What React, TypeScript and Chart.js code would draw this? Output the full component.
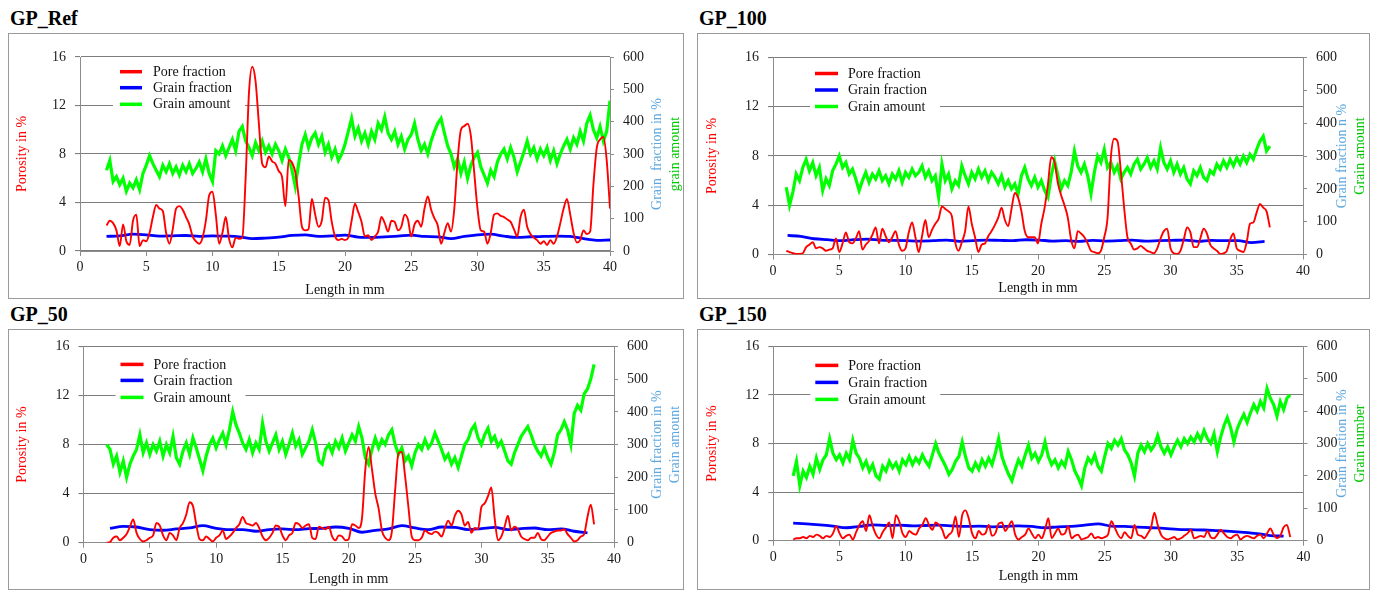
import React, { useEffect, useRef } from 'react';
import { Chart, registerables } from 'chart.js';

Chart.register(...registerables);

const SERIF = "'Liberation Serif', 'Times New Roman', serif";

// ---------------- DATA ----------------
const seriesLabels = ['Pore fraction', 'Grain fraction', 'Grain amount'];
const xTicks = [0, 5, 10, 15, 20, 25, 30, 35, 40];
const leftTicks = [0, 4, 8, 12, 16];
const rightTicks = [0, 100, 200, 300, 400, 500, 600];

// GP_Ref  (pore / amount sampled every 0.25 mm from 2.0 mm)
const refStart = 2.0;
const refStep = 0.25;
const refPore = [
  2.1, 2.5, 2.3, 1.7, 0.4, 2.2, 0.8, 0.5,
  2.5, 3.0, 0.4, 0.9, 0.8, 1.5, 2.8, 3.8,
  3.5, 3.3, 1.5, 0.6, 1.8, 3.5, 3.7, 3.4,
  2.8, 2.2, 1.2, 0.8, 0.6, 1.1, 2.5, 4.6,
  4.9, 3.0, 0.6, 1.5, 2.8, 1.0, 0.3, 1.1,
  1.0, 1.1, 6.0, 13.0, 15.2, 14.0, 10.5, 7.2,
  6.9, 7.8, 7.4, 7.2, 6.6, 6.1, 3.7, 7.5,
  7.3, 6.5, 4.5, 2.0, 1.7, 1.8, 4.3, 3.0,
  2.0, 2.5, 4.4, 4.2, 2.4, 1.2, 0.9, 1.0,
  0.9, 1.1, 2.5, 3.9, 3.2, 2.4, 1.2, 1.3,
  0.9, 1.2, 1.6, 2.8, 2.3, 1.6, 2.5, 2.4,
  1.7, 2.0, 3.0, 2.6, 1.2, 2.2, 2.5, 2.0,
  3.5, 4.5, 3.4, 2.7, 2.1, 0.6, 1.5, 2.3,
  1.6, 3.5, 7.5, 10.0, 10.3, 10.5, 9.5, 6.5,
  3.5, 1.7, 1.6, 0.6, 1.5, 3.0, 3.1, 2.9,
  2.8, 2.6, 2.4, 1.8, 1.2, 2.8, 3.4, 2.0,
  1.4, 1.1, 0.9, 0.6, 0.8, 0.5, 0.9, 0.6,
  1.2, 2.3, 3.5, 4.3, 3.0, 1.5, 0.7, 0.9,
  1.7, 1.4, 1.6, 5.5, 8.5, 9.2, 9.4, 7.5,
  3.5,
];
const refAmount = [
  250, 280, 215, 230, 205, 225, 185, 210,
  195, 220, 190, 240, 265, 295, 270, 250,
  230, 265, 245, 270, 240, 260, 235, 265,
  245, 270, 240, 255, 275, 245, 285, 240,
  215, 310, 300, 325, 295, 320, 345, 310,
  370, 385, 340, 320, 295, 335, 310, 340,
  305, 325, 300, 330, 310, 280, 315, 290,
  250, 200, 270, 330, 360, 320, 350, 365,
  330, 355, 305, 330, 290, 315, 280, 300,
  330, 370, 410, 355, 380, 340, 365, 330,
  370, 345, 395, 375, 415, 365, 345, 370,
  330, 355, 315, 345, 360, 395, 345, 310,
  330, 300, 340, 370, 395, 410, 365, 325,
  300, 260, 285, 240, 275, 225, 265, 290,
  305, 260, 235, 210, 250, 230, 275, 300,
  315, 285, 320, 290, 245, 275, 305, 340,
  300, 320, 285, 315, 295, 320, 280, 310,
  270, 300, 325, 345, 315, 350, 330, 370,
  340, 395, 420, 375, 350, 385, 340, 370,
  465,
];
const refFracStart = 2;
const refFracStep = 1;
const refFraction = [
  45, 47, 52, 50, 46, 47, 48, 45, 47, 46, 44, 38, 40, 43, 48, 50, 45, 47, 49, 43,
  42, 44, 46, 49, 45, 44, 38, 45, 50, 52, 46, 42, 44, 45, 46, 45, 38, 33, 34,
];

// GP_100
const p100Start = 1.0;
const p100Step = 0.25;
const p100Pore = [
  0.3, 0.2, 0.1, 0.05, 0.05, 0.1, 0.6, 0.8,
  1.0, 0.5, 0.6, 0.5, 0.3, 0.4, 0.5, 1.3,
  0.2, 0.9, 1.8, 1.0, 0.9, 1.3, 1.9, 0.4,
  0.8, 1.1, 1.6, 2.2, 0.9, 2.1, 1.5, 1.0,
  1.4, 1.9, 0.8, 0.3, 0.5, 1.8, 2.6, 1.4,
  0.2, 1.5, 2.8, 1.4, 2.0, 2.5, 2.9, 3.9,
  3.7, 3.5, 3.1, 1.0, 0.3, 1.0, 1.9, 3.9,
  2.5, 1.4, 0.2, 0.8, 0.9, 1.5, 1.9, 2.4,
  3.0, 3.8, 2.8, 2.3, 3.7, 5.0, 4.6, 3.5,
  1.9, 1.4, 1.4, 1.4, 0.9, 2.5, 3.8, 5.7,
  7.9, 7.5, 5.8, 4.8, 4.0, 3.0, 1.2, 0.5,
  1.9, 1.7, 1.4, 0.9, 0.3, 0.2, 0.1, 0.3,
  1.4, 3.0, 7.9, 9.4, 9.2, 6.8, 3.8, 1.4,
  0.9, 0.4, 0.5, 0.7, 0.5, 0.3, 0.2, 0.1,
  0.5, 1.3, 1.9, 2.1, 0.5, 0.1, 0.05, 0.3,
  1.2, 2.2, 1.8, 0.6, 0.6, 1.3, 2.1, 1.7,
  0.8, 0.5, 0.3, 0.05, 0.1, 0.3, 1.2, 1.7,
  0.5, 0.3, 0.2, 1.0, 2.5, 2.6, 3.4, 4.1,
  3.8, 3.5, 2.2,
];
const p100Amount = [
  205, 150, 190, 245, 225, 265, 290, 255,
  280, 240, 265, 195, 230, 210, 255, 275,
  300, 265, 280, 245, 260, 230, 195, 225,
  250, 220, 245, 230, 255, 225, 240, 215,
  245, 230, 255, 220, 250, 235, 260, 240,
  250, 270, 235, 255, 225, 240, 175, 275,
  225, 245, 200, 225, 210, 270, 240, 215,
  250, 230, 260, 235, 255, 225, 250, 235,
  215, 240, 205, 225, 200, 215, 185, 240,
  265, 230, 210, 235, 205, 225, 195, 175,
  240, 285, 240, 200, 225, 210, 250, 315,
  270, 250, 275, 240, 185, 250, 300, 280,
  320, 265, 280, 250, 270, 230, 250, 265,
  245, 275, 290, 260, 275, 295, 265, 285,
  260, 325, 280, 260, 285, 250, 275, 245,
  265, 230, 215, 255, 240, 265, 235, 225,
  255, 245, 275, 260, 285, 265, 290, 270,
  295, 275, 300, 280, 305, 290, 320, 345,
  360, 315, 330,
];
const p100FracStart = 1.1;
const p100FracStep = 1;
const p100Fraction = [
  58, 55, 48, 45, 42, 45, 47, 44, 43, 42, 41, 42, 44, 40, 42, 44, 43, 42, 45, 44,
  41, 42, 40, 43, 41, 42, 44, 41, 42, 43, 44, 40, 43, 42, 42, 36, 40,
];

// GP_50
const p50Start = 1.75;
const p50Step = 0.25;
const p50Pore = [
  0.0,
  0.05, 0.4, 0.5, 0.2, 0.4, 0.7, 1.3, 1.9,
  0.8, 0.3, 0.1, 0.2, 0.4, 0.6, 1.6, 1.4,
  0.6, 0.2, 0.8, 0.6, 0.2, 1.2, 1.6, 2.3,
  3.3, 3.0, 1.5, 0.3, 0.2, 0.5, 0.3, 0.1,
  0.4, 0.6, 1.0, 0.3, 0.5, 0.8, 1.2, 1.5,
  2.1, 1.6, 1.5, 1.4, 1.6, 1.2, 0.5, 0.2,
  0.4, 0.8, 1.4, 1.3, 0.6, 0.2, 0.6, 0.8,
  1.6, 1.5, 1.2, 1.4, 1.5, 0.4, 0.3, 1.3,
  1.2, 1.1, 1.3, 0.5, 0.2, 0.6, 0.5, 0.2,
  0.3, 1.5, 1.4, 1.2, 2.0, 6.0, 7.8, 6.0,
  4.0, 2.8, 1.0, 0.4, 0.2, 0.9, 4.3, 7.3,
  7.4, 5.4, 2.9, 0.5, 0.2, 0.2, 0.4, 1.0,
  0.8, 0.7, 0.9, 0.8, 0.5, 1.2, 1.8, 1.4,
  2.2, 2.6, 2.3, 1.4, 1.7, 0.8, 1.2, 1.1,
  2.9, 3.2, 3.8, 4.5, 2.0, 0.2, 0.5, 1.3,
  2.2, 1.0, 1.3, 1.1, 0.5, 0.3, 0.2, 0.4,
  0.4, 0.8, 0.3, 0.2, 0.5, 0.8, 0.9, 1.0,
  1.0, 1.1, 0.7, 0.4, 0.1, 0.2, 0.5, 0.7,
  2.1, 3.1, 1.5,
];
const p50Amount = [
  300,
  285, 240, 265, 215, 250, 200, 240, 265,
  285, 330, 275, 305, 270, 300, 280, 310,
  265, 300, 275, 325, 260, 240, 280, 305,
  270, 320, 290, 255, 220, 265, 300, 320,
  290, 315, 335, 300, 345, 400, 360, 335,
  305, 285, 315, 275, 305, 285, 365, 310,
  280, 305, 330, 285, 310, 270, 300, 335,
  295, 315, 270, 290, 310, 345, 305, 250,
  240, 285, 300, 275, 310, 290, 320, 280,
  305, 330, 310, 355, 320, 260, 240, 285,
  320, 290, 315, 300, 330, 345, 300, 270,
  290, 250, 265, 235, 275, 300, 285, 315,
  290, 305, 335, 310, 285, 255, 270, 240,
  260, 230, 265, 300, 315, 345, 360, 320,
  300, 330, 350, 310, 325, 295, 310, 280,
  250, 240, 275, 300, 325, 340, 355, 330,
  300, 280, 265, 290, 260, 240, 275, 330,
  345, 370, 345, 300, 395, 420, 405, 455,
  470, 500, 545,
];
const p50FracStart = 2;
const p50FracStep = 1;
const p50Fraction = [
  44, 50, 48, 40, 38, 42, 45, 52, 44, 40, 40, 35, 40, 42, 40, 43, 44, 48, 44, 32,
  38, 42, 52, 45, 40, 48, 47, 40, 43, 47, 40, 43, 45, 40, 42, 35, 30,
];

// GP_150
const p150Start = 1.5;
const p150Step = 0.25;
const p150Pore = [
  0.1, 0.2, 0.2, 0.3, 0.2, 0.4, 0.3, 0.5,
  0.4, 0.2, 0.4, 0.3, 0.6, 1.2, 0.6, 0.2,
  0.4, 0.5, 0.1, 0.7, 1.3, 1.6, 0.8, 2.1,
  1.2, 0.5, 0.2, 0.7, 1.1, 1.5, 0.2, 2.1,
  1.6, 0.6, 0.3, 0.8, 0.6, 0.5, 1.0, 1.3,
  1.85, 1.3, 0.9, 1.5, 1.3, 0.9, 0.2, 0.5,
  0.8, 2.0, 0.3, 2.1, 2.5, 1.8, 0.6, 0.2,
  0.8, 0.5, 0.6, 1.3, 0.4, 0.6, 1.4, 1.5,
  0.8, 1.2, 1.6, 0.5, 0.1, 0.3, 0.5, 1.0,
  0.6, 0.2, 0.5, 0.2, 0.9, 1.85, 0.2, 0.6,
  1.0, 0.5, 0.6, 1.2, 0.2, 0.4, 0.5, 0.1,
  0.2, 0.3, 0.6, 0.2, 0.3, 0.2, 0.3, 0.5,
  1.6, 1.1, 0.5, 0.2, 0.7, 0.4, 0.2, 1.3,
  0.5, 0.4, 0.2, 0.6, 1.1, 2.3, 1.3, 0.5,
  0.2, 0.1, 0.2, 0.3, 0.1, 0.2, 0.4, 0.6,
  0.9, 0.2, 0.3, 0.4, 0.3, 0.8, 0.3, 0.2,
  0.5, 0.9, 0.6, 0.3, 0.2, 0.4, 0.5, 0.1,
  0.3, 0.4, 0.3, 0.2, 0.4, 0.5, 0.2, 0.6,
  1.0, 0.5, 0.2, 0.4, 1.1, 1.3, 0.3,
];
const p150Amount = [
  200, 245, 170, 215, 195, 230, 205, 255,
  220, 250, 265, 315, 270, 250, 265, 240,
  270, 250, 310, 270, 255, 225, 245, 215,
  235, 200, 190, 230, 215, 245, 225, 240,
  215, 250, 235, 260, 235, 255, 240, 265,
  245, 230, 265, 300, 270, 250, 230, 205,
  220, 245, 260, 305, 260, 225, 215, 240,
  220, 250, 230, 255, 235, 270, 315, 260,
  230, 205, 185, 220, 250, 230, 265, 295,
  255, 270, 245, 265, 305, 260, 235, 250,
  225, 245, 230, 275, 250, 215, 195, 170,
  225, 255, 240, 265, 230, 215, 260, 300,
  285, 310, 295, 315, 280, 265, 240, 200,
  270, 295, 275, 300, 280, 295, 325, 290,
  270, 290, 265, 290, 310, 290, 315, 300,
  320, 305, 330, 310, 340, 315, 300, 330,
  275, 320, 355, 380, 350, 305, 345, 370,
  390, 365, 395, 420, 400, 430, 410, 470,
  440, 420, 385, 430, 405, 440, 450,
];
const p150FracStart = 1.5;
const p150FracStep = 1;
const p150Fraction = [
  54, 52, 49, 45, 40, 44, 49, 47, 48, 46, 47, 48, 46, 44, 45, 43, 44, 46, 44, 40,
  43, 44, 48, 52, 45, 44, 42, 40, 38, 35, 34, 33, 31, 29, 26, 22, 16, 14,
];

// ---------------- STYLE / LAYOUT ----------------
const LIGHTBLUE = '#5FA8DF';
const GREEN_TXT = '#00C800';

const PANELS = [
  {
    title: 'GP_Ref', titlePos: { left: 10, top: 7 },
    box: { l: 8, t: 33, w: 676, h: 266 }, yL: 72, yR: 74, padTop: 24, xH: 48,
    pore: [refStart, refStep, refPore], amount: [refStart, refStep, refAmount],
    frac: [refFracStart, refFracStep, refFraction],
    leftDx: -58, xTitleDy: 39,
    right: [
      { text: 'Grain  fraction in %', color: LIGHTBLUE, dx: 47 },
      { text: 'grain amount', color: GREEN_TXT, dx: 65 },
    ],
    legend: { box: [33, 4, 165, 57], line: [40, 62], textX: 73, rows: [14.7, 30.7, 47.3] },
  },
  {
    title: 'GP_100', titlePos: { left: 699, top: 7 },
    box: { l: 697, t: 33, w: 673, h: 266 }, yL: 76, yR: 67, padTop: 24.5, xH: 44.5,
    pore: [p100Start, p100Step, p100Pore], amount: [p100Start, p100Step, p100Amount],
    frac: [p100FracStart, p100FracStep, p100Fraction],
    leftDx: -61, xTitleDy: 33.5,
    right: [
      { text: 'Grain fraction n %', color: LIGHTBLUE, dx: 39 },
      { text: 'Grain amount', color: GREEN_TXT, dx: 57 },
    ],
    legend: { box: [37, 5, 167, 58], line: [42, 65], textX: 75, rows: [16, 32.5, 49] },
  },
  {
    title: 'GP_50', titlePos: { left: 10, top: 303 },
    box: { l: 8, t: 329, w: 676, h: 261 }, yL: 75.5, yR: 70, padTop: 14.5, xH: 47.3,
    pore: [p50Start, p50Step, p50Pore], amount: [p50Start, p50Step, p50Amount],
    frac: [p50FracStart, p50FracStep, p50Fraction],
    leftDx: -61.5, xTitleDy: 37,
    right: [
      { text: 'Grain fraction in %', color: LIGHTBLUE, dx: 43 },
      { text: 'Grain amount', color: LIGHTBLUE, dx: 61 },
    ],
    legend: { box: [32, 5, 162, 60], line: [37, 60], textX: 70, rows: [18, 34, 51] },
  },
  {
    title: 'GP_150', titlePos: { left: 699, top: 303 },
    box: { l: 697, t: 329, w: 673, h: 261 }, yL: 76.3, yR: 66.5, padTop: 16, xH: 49.3,
    pore: [p150Start, p150Step, p150Pore], amount: [p150Start, p150Step, p150Amount],
    frac: [p150FracStart, p150FracStep, p150Fraction],
    leftDx: -61, xTitleDy: 36,
    right: [
      { text: 'Grain fraction in %', color: LIGHTBLUE, dx: 39 },
      { text: 'Grain number', color: GREEN_TXT, dx: 57 },
    ],
    legend: { box: [37, 5, 167, 62], line: [42, 65], textX: 75, rows: [19, 36, 53] },
  },
];

const SERIES_COLORS = ['#FF0000', '#0000FF', '#00FF00'];

function toPoints(spec: any[]) {
  const [start, step, values] = spec;
  return values.map((v: number, i: number) => ({ x: Math.round((start + i * step) * 1000) / 1000, y: v }));
}

function makeDecor(p: any) {
  return {
    id: 'decor',
    beforeDatasetsDraw(chart: any) {
      const { ctx, chartArea: a } = chart;
      const b = p.legend.box;
      ctx.save();
      ctx.fillStyle = '#ffffff';
      ctx.fillRect(a.left + b[0], a.top + b[1], b[2] - b[0], b[3] - b[1]);
      ctx.restore();
    },
    afterDatasetsDraw(chart: any) {
      const { ctx, chartArea: a } = chart;
      const L = p.legend;
      ctx.save();
      seriesLabels.forEach((lab, i) => {
        const y = a.top + L.rows[i];
        ctx.strokeStyle = SERIES_COLORS[i];
        ctx.lineWidth = 3.5;
        ctx.beginPath();
        ctx.moveTo(a.left + L.line[0], y);
        ctx.lineTo(a.left + L.line[1], y);
        ctx.stroke();
        ctx.fillStyle = '#111';
        ctx.font = `14px ${SERIF}`;
        ctx.textBaseline = 'middle';
        ctx.textAlign = 'left';
        ctx.fillText(lab, a.left + L.textX, y + 0.5);
      });
      ctx.restore();
    },
    afterDraw(chart: any) {
      const { ctx, chartArea: a, width, height } = chart;
      const midY = (a.top + a.bottom) / 2;
      ctx.save();
      ctx.font = `14px ${SERIF}`;
      ctx.textAlign = 'center';
      ctx.textBaseline = 'middle';
      ctx.save();
      ctx.translate(a.left + p.leftDx, midY);
      ctx.rotate(-Math.PI / 2);
      ctx.fillStyle = '#FF0000';
      ctx.fillText('Porosity in %', 0, 0);
      ctx.restore();
      p.right.forEach((r: any) => {
        ctx.save();
        ctx.translate(a.right + r.dx, midY);
        ctx.rotate(-Math.PI / 2);
        ctx.fillStyle = r.color;
        ctx.fillText(r.text, 0, 0);
        ctx.restore();
      });
      ctx.fillStyle = '#111';
      ctx.fillText('Length in mm', (a.left + a.right) / 2, a.bottom + p.xTitleDy);
      ctx.strokeStyle = '#9a9a9a';
      ctx.lineWidth = 1;
      ctx.strokeRect(0.5, 0.5, width - 1, height - 1);
      ctx.restore();
    },
  };
}

function Panel({ p }: { p: any }) {
  const ref = useRef<HTMLCanvasElement>(null);
  useEffect(() => {
    if (!ref.current) return;
    const tickFont = { family: SERIF, size: 14 };
    const gridColor = '#7d7d7d';
    const axisColor = '#8c8c8c';
    const chart = new Chart(ref.current, {
      type: 'line',
      data: {
        datasets: [
          {
            label: seriesLabels[0], data: toPoints(p.pore), yAxisID: 'y',
            borderColor: SERIES_COLORS[0], borderWidth: 1.9, pointRadius: 0,
            cubicInterpolationMode: 'monotone', order: 0,
          },
          {
            label: seriesLabels[1], data: toPoints(p.frac), yAxisID: 'y2',
            borderColor: SERIES_COLORS[1], borderWidth: 2.8, pointRadius: 0,
            cubicInterpolationMode: 'monotone', order: 1,
          },
          {
            label: seriesLabels[2], data: toPoints(p.amount), yAxisID: 'y2',
            borderColor: SERIES_COLORS[2], borderWidth: 3.2, pointRadius: 0,
            tension: 0, order: 2,
          },
        ],
      } as any,
      options: {
        animation: false,
        responsive: false,
        maintainAspectRatio: false,
        layout: { padding: { top: p.padTop, left: 0, right: 0, bottom: 0 } },
        plugins: { legend: { display: false }, tooltip: { enabled: false }, title: { display: false } },
        scales: {
          x: {
            type: 'linear', position: 'bottom', min: 0, max: 40,
            afterBuildTicks: (s: any) => { s.ticks = xTicks.map((v) => ({ value: v })); },
            ticks: { font: tickFont, color: '#1a1a1a', padding: 3, maxRotation: 0 },
            grid: { drawOnChartArea: false, tickLength: 5, color: axisColor },
            border: { color: axisColor, width: 1 },
            afterFit: (s: any) => { s.height = p.xH; },
          },
          y: {
            type: 'linear', position: 'left', min: 0, max: 16,
            afterBuildTicks: (s: any) => { s.ticks = leftTicks.map((v) => ({ value: v })); },
            ticks: { font: tickFont, color: '#1a1a1a', padding: 9 },
            grid: { color: gridColor, lineWidth: 1.1, tickLength: 5 },
            border: { color: axisColor, width: 1 },
            afterFit: (s: any) => { s.width = p.yL; },
          },
          y2: {
            type: 'linear', position: 'right', min: 0, max: 600,
            afterBuildTicks: (s: any) => { s.ticks = rightTicks.map((v) => ({ value: v })); },
            ticks: { font: tickFont, color: '#1a1a1a', padding: 9 },
            grid: { drawOnChartArea: false, tickLength: 4, color: axisColor },
            border: { color: axisColor, width: 1 },
            afterFit: (s: any) => { s.width = p.yR; },
          },
        },
      } as any,
      plugins: [makeDecor(p)],
    });
    return () => chart.destroy();
  }, [p]);
  return (
    <canvas
      ref={ref}
      width={p.box.w}
      height={p.box.h}
      style={{ position: 'absolute', left: p.box.l, top: p.box.t, width: p.box.w, height: p.box.h, display: 'block' }}
    />
  );
}

export default function App() {
  return (
    <div style={{ position: 'fixed', left: 0, top: 0, width: 1379, height: 593, background: '#fff', overflow: 'hidden' }}>
      {PANELS.map((p) => (
        <React.Fragment key={p.title}>
          <div
            style={{
              position: 'absolute', left: p.titlePos.left, top: p.titlePos.top,
              fontFamily: SERIF, fontWeight: 'bold', fontSize: 20, lineHeight: '22px', color: '#000',
            }}
          >
            {p.title}
          </div>
          <Panel p={p} />
        </React.Fragment>
      ))}
    </div>
  );
}
